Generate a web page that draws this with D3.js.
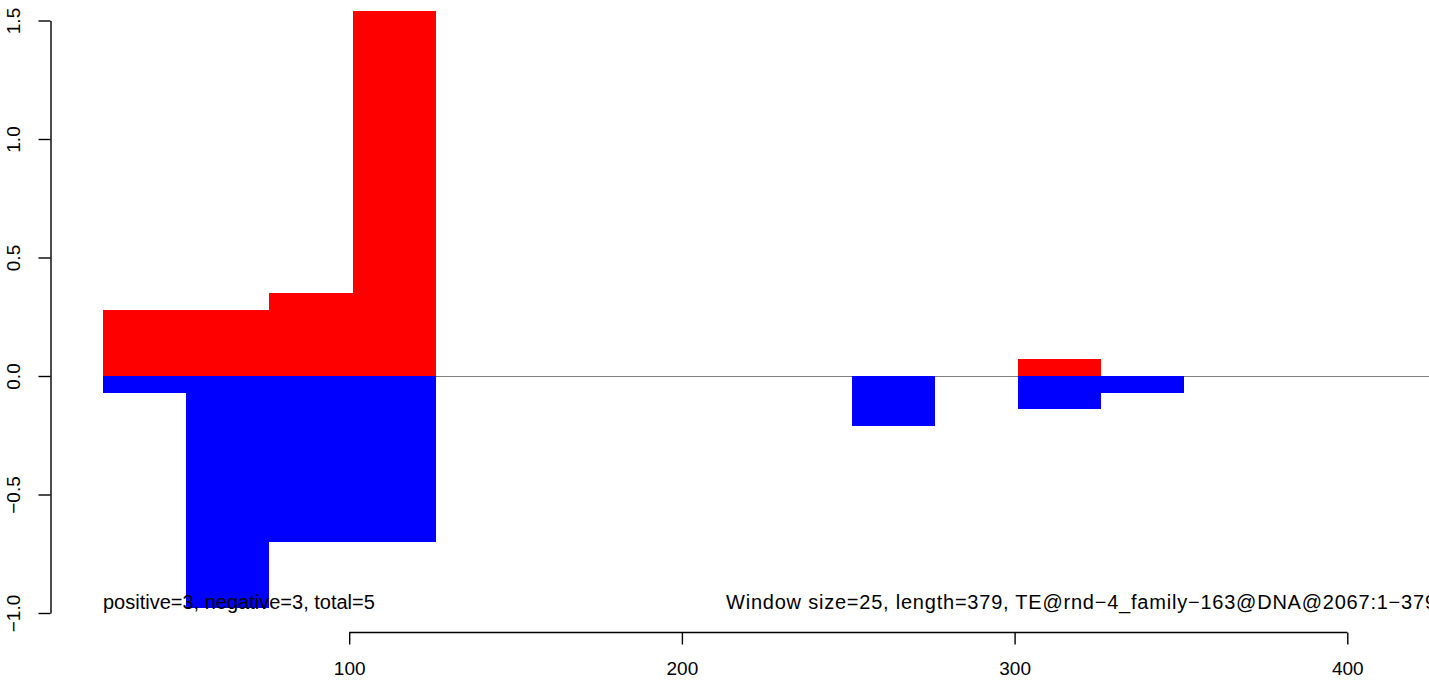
<!DOCTYPE html>
<html><head><meta charset="utf-8">
<script src="https://cdn.jsdelivr.net/npm/d3@7"></script>
<style>
html,body{margin:0;padding:0;background:#fff;}
svg text{font-family:"Liberation Sans",Arial,Helvetica,sans-serif;}
</style></head>
<body>
<script>
// Window start positions (window size 25)
const windowStarts = [26, 51, 76, 101, 251, 301, 326];
const windowSize = 25;
// Positive (red) and negative (blue) values per window
const positiveValues = [0.28, 0.28, 0.35, 1.54, 0, 0.07, 0];
const negativeValues = [-0.07, -0.98, -0.70, -0.70, -0.21, -0.14, -0.07];
const xTicks = [100, 200, 300, 400];
const yTicks = [-1.0, -0.5, 0.0, 0.5, 1.0, 1.5];
const leftLabel = "positive=3, negative=3, total=5";
const rightLabel = "Window size=25, length=379, TE@rnd\u22124_family\u2212163@DNA@2067:1\u2212379";

const W = 1429, H = 680;
const svg = d3.select("body").append("svg").attr("width", W).attr("height", H);

const x = d3.scaleLinear().domain([0, 400]).range([16.5, 1347.3]);
const y = d3.scaleLinear().domain([-1, 1.5]).range([613, 20.5]);

// zero line
svg.append("line")
  .attr("x1", x(windowStarts[0])).attr("x2", W)
  .attr("y1", 376.5).attr("y2", 376.5)
  .attr("stroke", "#808080").attr("stroke-width", 1.2);

const data = windowStarts.map((s, i) => ({s, p: positiveValues[i], n: negativeValues[i]}));

const barG = svg.append("g").attr("shape-rendering", "crispEdges");
barG.selectAll("rect.pos").data(data.filter(d => d.p > 0)).join("rect")
  .attr("x", d => x(d.s)).attr("width", d => x(d.s + windowSize) - x(d.s))
  .attr("y", d => y(d.p)).attr("height", d => y(0) - y(d.p))
  .attr("fill", "#ff0000");

barG.selectAll("rect.neg").data(data.filter(d => d.n < 0)).join("rect")
  .attr("x", d => x(d.s)).attr("width", d => x(d.s + windowSize) - x(d.s))
  .attr("y", y(0)).attr("height", d => y(d.n) - y(0))
  .attr("fill", "#0000ff");

// Y axis
const yAxis = svg.append("g").attr("transform", "translate(50.5,0)")
  .call(d3.axisLeft(y).tickValues(yTicks).tickFormat(d3.format(".1f")).tickSize(12).tickSizeOuter(0));
yAxis.select(".domain").attr("stroke", "#000").attr("stroke-width", 1.4);
yAxis.selectAll(".tick line").attr("stroke", "#000").attr("stroke-width", 1.4);
yAxis.selectAll(".tick text")
  .attr("font-size", 19).attr("fill", "#000")
  .attr("x", 0).attr("dy", null)
  .attr("text-anchor", "middle")
  .attr("transform", "translate(-37.5,0) rotate(-90)")
  .attr("dominant-baseline", "central");

// X axis (R style: axis line spans first to last tick)
const xAxis = svg.append("g").attr("transform", "translate(0,632.5)")
  .call(d3.axisBottom(x).tickValues(xTicks).tickFormat(d3.format("d")).tickSize(12).tickSizeOuter(0));
xAxis.select(".domain").attr("d", `M${x(xTicks[0])},0H${x(xTicks[xTicks.length - 1])}`)
  .attr("stroke", "#000").attr("stroke-width", 1.4);
xAxis.selectAll(".tick line").attr("stroke", "#000").attr("stroke-width", 1.4);
xAxis.selectAll(".tick text").attr("font-size", 19).attr("fill", "#000")
  .attr("y", 36).attr("dy", null).attr("dominant-baseline", "central");

// annotations
svg.append("text").attr("x", 103).attr("y", 608.5).attr("font-size", 20)
  .attr("fill", "#000").text(leftLabel);
svg.append("text").attr("x", 726).attr("y", 608.5).attr("font-size", 20)
  .attr("textLength", 710).attr("lengthAdjust", "spacing")
  .attr("fill", "#000").text(rightLabel);
</script>
</body></html>
